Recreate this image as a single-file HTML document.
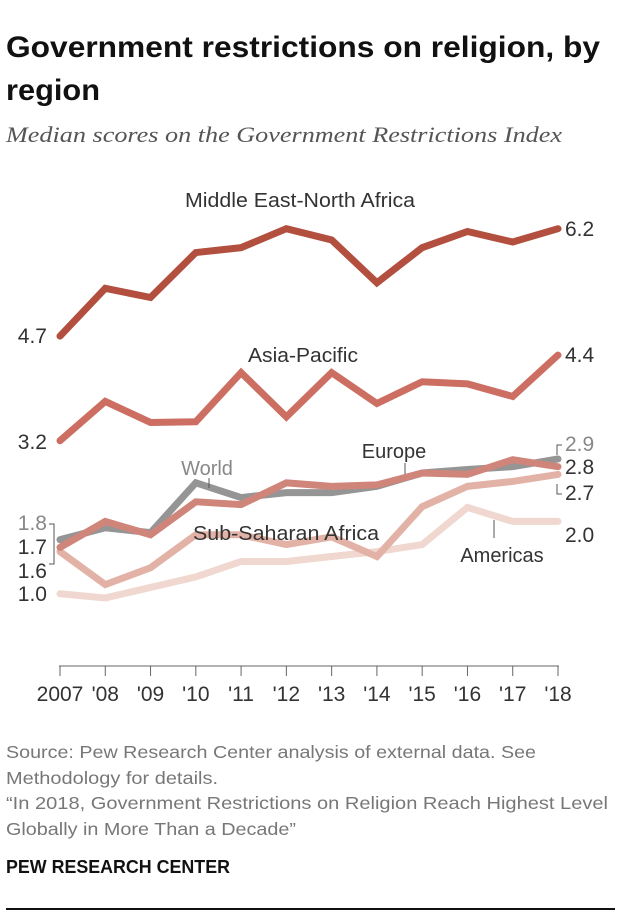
<!DOCTYPE html>
<html><head><meta charset="utf-8"><style>
body{margin:0;background:#fff;width:620px;height:918px;overflow:hidden;font-family:"Liberation Sans",sans-serif}
</style></head><body>
<svg width="620" height="918" font-family="Liberation Sans, sans-serif">
<text x="6" y="57" font-size="30" font-weight="bold" fill="#111" textLength="594" lengthAdjust="spacingAndGlyphs">Government restrictions on religion, by</text>
<text x="6" y="100" font-size="30" font-weight="bold" fill="#111" textLength="94" lengthAdjust="spacingAndGlyphs">region</text>
<text x="6" y="142" font-size="22" font-style="italic" font-family="Liberation Serif, serif" fill="#555" textLength="556" lengthAdjust="spacingAndGlyphs">Median scores on the Government Restrictions Index</text>
<g id="axis"></g>
<g id="lines"></g>
<g font-size="20" fill="#333">
<text x="300" y="207" text-anchor="middle" textLength="230" lengthAdjust="spacingAndGlyphs">Middle East-North Africa</text>
<text x="303" y="362" text-anchor="middle" textLength="110" lengthAdjust="spacingAndGlyphs">Asia-Pacific</text>
<text x="394" y="458" text-anchor="middle">Europe</text>
<text x="207" y="475" text-anchor="middle" fill="#888">World</text>
<text x="286" y="540" text-anchor="middle" textLength="186" lengthAdjust="spacingAndGlyphs">Sub-Saharan Africa</text>
<text x="502" y="562" text-anchor="middle">Americas</text>
<line x1="405" y1="463" x2="405" y2="474" stroke="#555" stroke-width="1"/>
<line x1="209" y1="478" x2="209" y2="488" stroke="#555" stroke-width="1"/>
<line x1="494" y1="520" x2="494" y2="538" stroke="#555" stroke-width="1"/>
<g font-size="21">
<text x="47" y="343" text-anchor="end">4.7</text>
<text x="47" y="449" text-anchor="end">3.2</text>
<text x="47" y="530" text-anchor="end" fill="#888">1.8</text>
<text x="47" y="554" text-anchor="end">1.7</text>
<text x="47" y="578" text-anchor="end">1.6</text>
<text x="47" y="601" text-anchor="end">1.0</text>
<text x="565" y="236">6.2</text>
<text x="565" y="362">4.4</text>
<text x="565" y="451" fill="#888">2.9</text>
<text x="565" y="474">2.8</text>
<text x="565" y="500">2.7</text>
<text x="565" y="542">2.0</text>
</g>
<polyline points="49,524 54,524 54,564 49,564" fill="none" stroke="#555" stroke-width="1"/>
<polyline points="562,445 557,445 557,455" fill="none" stroke="#555" stroke-width="1"/>
<polyline points="562,494 557,494 557,484" fill="none" stroke="#555" stroke-width="1"/>
</g>
<g font-size="17.5" fill="#777">
<text x="6" y="758" textLength="530" lengthAdjust="spacingAndGlyphs">Source: Pew Research Center analysis of external data. See</text>
<text x="6" y="784" textLength="212" lengthAdjust="spacingAndGlyphs">Methodology for details.</text>
<text x="6" y="809" textLength="602" lengthAdjust="spacingAndGlyphs">“In 2018, Government Restrictions on Religion Reach Highest Level</text>
<text x="6" y="835" textLength="290" lengthAdjust="spacingAndGlyphs">Globally in More Than a Decade”</text>
</g>
<text x="6" y="873" font-size="18" font-weight="bold" fill="#111" textLength="224" lengthAdjust="spacingAndGlyphs">PEW RESEARCH CENTER</text>
<line x1="6" y1="909" x2="615" y2="909" stroke="#111" stroke-width="2"/>
</svg>
<script>
const years = ["2007","'08","'09","'10","'11","'12","'13","'14","'15","'16","'17","'18"];
const mena = [4.67,5.35,5.22,5.86,5.93,6.2,6.04,5.43,5.93,6.16,6.01,6.2];
const asia = [3.18,3.74,3.44,3.45,4.15,3.52,4.15,3.71,4.02,3.99,3.81,4.4];
const world = [1.77,1.94,1.87,2.58,2.37,2.44,2.44,2.53,2.72,2.77,2.81,2.92];
const europe = [1.66,2.03,1.84,2.31,2.27,2.58,2.53,2.55,2.72,2.70,2.91,2.81];
const ssa = [1.6,1.13,1.37,1.84,1.84,1.70,1.81,1.53,2.24,2.53,2.6,2.70];
const americas = [1.0,0.94,1.09,1.24,1.46,1.46,1.53,1.60,1.70,2.23,2.03,2.03];
const NS='http://www.w3.org/2000/svg';
function xs(i){return 60+i*(558-60)/11;}
function ys(v){return 334-(v-4.7)*70.2;}
const ax=document.getElementById('axis');
let l=document.createElementNS(NS,'line');
l.setAttribute('x1',59);l.setAttribute('x2',559);l.setAttribute('y1',666);l.setAttribute('y2',666);
l.setAttribute('stroke','#666');


ax.appendChild(l);
years.forEach((y,i)=>{
 const t=document.createElementNS(NS,'line');
 t.setAttribute('x1',xs(i));t.setAttribute('x2',xs(i));t.setAttribute('y1',666);t.setAttribute('y2',676);t.setAttribute('stroke','#666');
 
 
 ax.appendChild(t);
 const tx=document.createElementNS(NS,'text');
 tx.setAttribute('x',xs(i));tx.setAttribute('y',701);tx.setAttribute('text-anchor','middle');tx.setAttribute('font-size','21');tx.setAttribute('fill','#333');
 tx.textContent=y;
 
 
 ax.appendChild(tx);
});
const series=[[americas,'#f0d8d0','line-americas'],[ssa,'#e3b2a6','line-sub-saharan-africa'],[world,'#959595','line-world'],[europe,'#d0857a','line-europe'],[asia,'#cc6f62','line-asia-pacific'],[mena,'#b24f3e','line-mena']];
const g=document.getElementById('lines');
series.forEach(s=>{
 const p=document.createElementNS(NS,'polyline');
 p.setAttribute('points',s[0].map((v,i)=>xs(i)+','+ys(v)).join(' '));
 p.setAttribute('fill','none');p.setAttribute('stroke',s[1]);p.setAttribute('stroke-width','7');
 p.setAttribute('stroke-linecap','round');p.setAttribute('stroke-linejoin','miter');
 
 
 g.appendChild(p);
});
</script>
</body></html>
